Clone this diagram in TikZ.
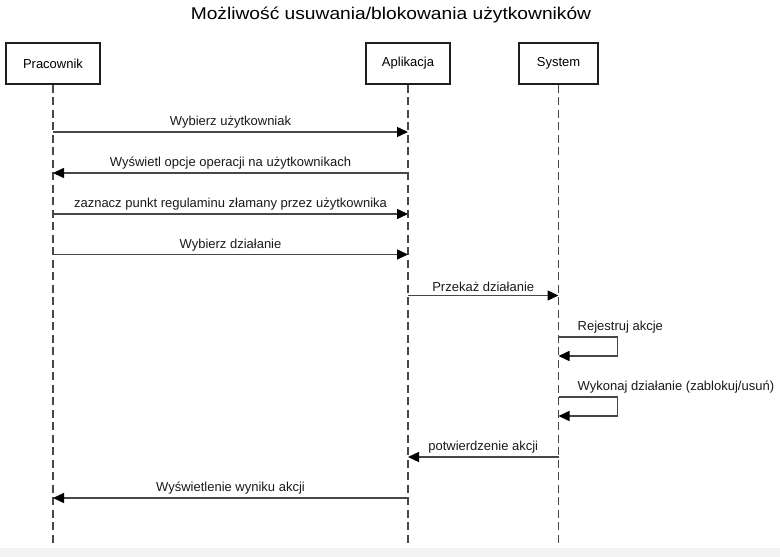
\documentclass[tikz,border=0pt]{standalone}
\usepackage{fontspec}
\setmainfont{Liberation Sans}
\newfontfamily\titlefont[FakeStretch=1.13]{Liberation Sans}
\usetikzlibrary{arrows.meta,calc}
\definecolor{linec}{HTML}{474747}
\definecolor{boxc}{HTML}{1E1E1E}
\definecolor{stripc}{HTML}{F3F3F3}
\begin{document}
\begin{tikzpicture}[x=1pt,y=-1pt,
  actor/.style={draw=boxc,line width=1.9pt,fill=white,minimum height=41pt,inner sep=0pt,font=\fontsize{13}{15}\selectfont},
  lifeline/.style={draw=linec,line width=1.5pt,dash pattern=on 8pt off 4.5pt},
  msg/.style={draw=linec,line width=1.5pt,-{Triangle[length=11pt,width=10pt,color=black]}},
  lbl/.style={above=2pt,inner sep=1pt,font=\fontsize{13}{15}\selectfont,text=black!90},
  slbl/.style={anchor=south west,inner sep=1pt,font=\fontsize{13}{15}\selectfont,text=black!90}]
\useasboundingbox (0,0) rectangle (780,557);
\fill[stripc] (0,548) rectangle (780,557);
\node[font=\titlefont\fontsize{17}{20}\selectfont] (title) at (391,15) {Możliwość usuwania/blokowania użytkowników};
\node[actor,minimum width=94pt] (P) at (53,63.5) {Pracownik};
\node[actor,minimum width=84pt] (A) at (408,63.5) {Aplikacja};
\node[actor,minimum width=79pt] (S) at (558.5,63.5) {System};
\coordinate (Pe) at (P |- 0,547);
\coordinate (Ae) at (A |- 0,547);
\coordinate (Se) at (S |- 0,547);
\draw[lifeline] (P.south) -- (Pe);
\draw[lifeline] (A.south) -- (Ae);
\draw[lifeline] (S.south) -- (Se);
\draw[msg] (P |- 0,132) -- node[lbl]{Wybierz użytkowniak} (A |- 0,132);
\draw[msg] (A |- 0,173) -- node[lbl]{Wyświetl opcje operacji na użytkownikach} (P |- 0,173);
\draw[msg] (P |- 0,214) -- node[lbl]{zaznacz punkt regulaminu złamany przez użytkownika} (A |- 0,214);
\draw[msg] (P |- 0,254.5) -- node[lbl]{Wybierz działanie} (A |- 0,254.5);
\draw[msg] (A |- 0,295.5) -- node[lbl]{Przekaż działanie} (S |- 0,295.5);
\draw[msg] (S |- 0,337) -- ++(59,0) coordinate (r1) -- ++(0,19) -- (S |- 0,356);
\node[slbl] (l1) at ($(S |- 0,337)+(18,-3)$) {Rejestruj akcje};
\draw[msg] (S |- 0,397) -- ++(59,0) coordinate (r2) -- ++(0,19) -- (S |- 0,416);
\node[slbl] (l2) at ($(S |- 0,397)+(18,-3)$) {Wykonaj działanie (zablokuj/usuń)};
\draw[msg] (S |- 0,457) -- node[lbl]{potwierdzenie akcji} (A |- 0,457);
\draw[msg] (A |- 0,498) -- node[lbl]{Wyświetlenie wyniku akcji} (P |- 0,498);
\end{tikzpicture}
\end{document}
